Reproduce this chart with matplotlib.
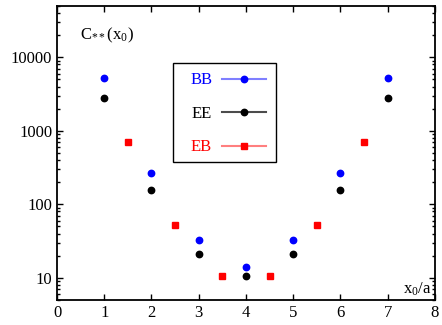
import matplotlib
matplotlib.use("Agg")
import matplotlib.pyplot as plt
from matplotlib.lines import Line2D
from matplotlib.patches import Rectangle
from matplotlib.ticker import LogLocator, NullFormatter, FixedLocator

plt.rcParams['font.family'] = ['Liberation Serif', 'DejaVu Serif']
plt.rcParams['mathtext.fontset'] = 'custom'
plt.rcParams['mathtext.rm'] = 'Liberation Serif'
plt.rcParams['mathtext.it'] = 'Liberation Serif'

# data
x_bb = [1, 2, 3, 4, 5, 6, 7]
c_bb = [5250, 270, 32.7, 14.1, 32.7, 270, 5250]
x_ee = [1, 2, 3, 4, 5, 6, 7]
c_ee = [2820, 158, 21, 10.5, 21, 158, 2820]
x_eb = [1.5, 2.5, 3.5, 4.5, 5.5, 6.5]
c_eb = [708, 53, 10.5, 10.5, 53, 708]

fig = plt.figure(figsize=(4.42, 3.25), dpi=100)
ax = fig.add_axes([0.129, 0.077, 0.855, 0.905])

ax.plot(x_bb, c_bb, 'o', color='blue', ms=4.6, ls='none')
ax.plot(x_ee, c_ee, 'o', color='black', ms=4.6, ls='none')
ax.plot(x_eb, c_eb, 's', color='red', ms=5, ls='none')

ax.set_yscale('log')
ax.set_xlim(0, 8)
ax.set_ylim(5, 50000)
ax.set_xticks(range(0, 9))
ax.yaxis.set_major_locator(FixedLocator([10, 100, 1000, 10000]))
ax.set_yticklabels(['10', '100', '1000', '10000'])
ax.yaxis.set_minor_locator(LogLocator(base=10, subs=range(2, 10)))
ax.yaxis.set_minor_formatter(NullFormatter())
ax.tick_params(which='both', direction='in', top=True, right=True, labelsize=12, width=1)
ax.tick_params(which='major', length=4)
ax.tick_params(which='minor', length=2)
for s in ax.spines.values():
    s.set_linewidth(1.3)

ax.text(0.06, 0.90, r'C$_{**}$(x$_0$)', transform=ax.transAxes, fontsize=12, va='center')
ax.text(0.99, 0.035, r'x$_0$/a', transform=ax.transAxes, fontsize=12, ha='right', va='center')

# legend frame drawn by hand
ax.add_patch(Rectangle((0.308, 0.468), 0.271, 0.337, transform=ax.transAxes,
                       facecolor='white', edgecolor='black', lw=1.0, zorder=4))

handles = [
    Line2D([], [], color=(0, 0, 1, 0.5), lw=1.5, marker='o', mfc='blue', mec='blue', ms=4.6),
    Line2D([], [], color=(0, 0, 0, 0.7), lw=1.5, marker='o', mfc='black', mec='black', ms=4.6),
    Line2D([], [], color=(1, 0, 0, 0.5), lw=1.5, marker='s', mfc='red', mec='red', ms=5),
]
leg = ax.legend(handles, ['BB', 'EE', 'EB'], loc='upper left', bbox_to_anchor=(0.328, 0.805),
                borderaxespad=0, markerfirst=False, frameon=False,
                fontsize=12, handlelength=2.64, handletextpad=0.6, labelspacing=1.05,
                borderpad=0.55)
leg.set_zorder(5)
for t, c in zip(leg.get_texts(), ['blue', 'black', 'red']):
    t.set_color(c)

fig.savefig('out.png', dpi=100)
